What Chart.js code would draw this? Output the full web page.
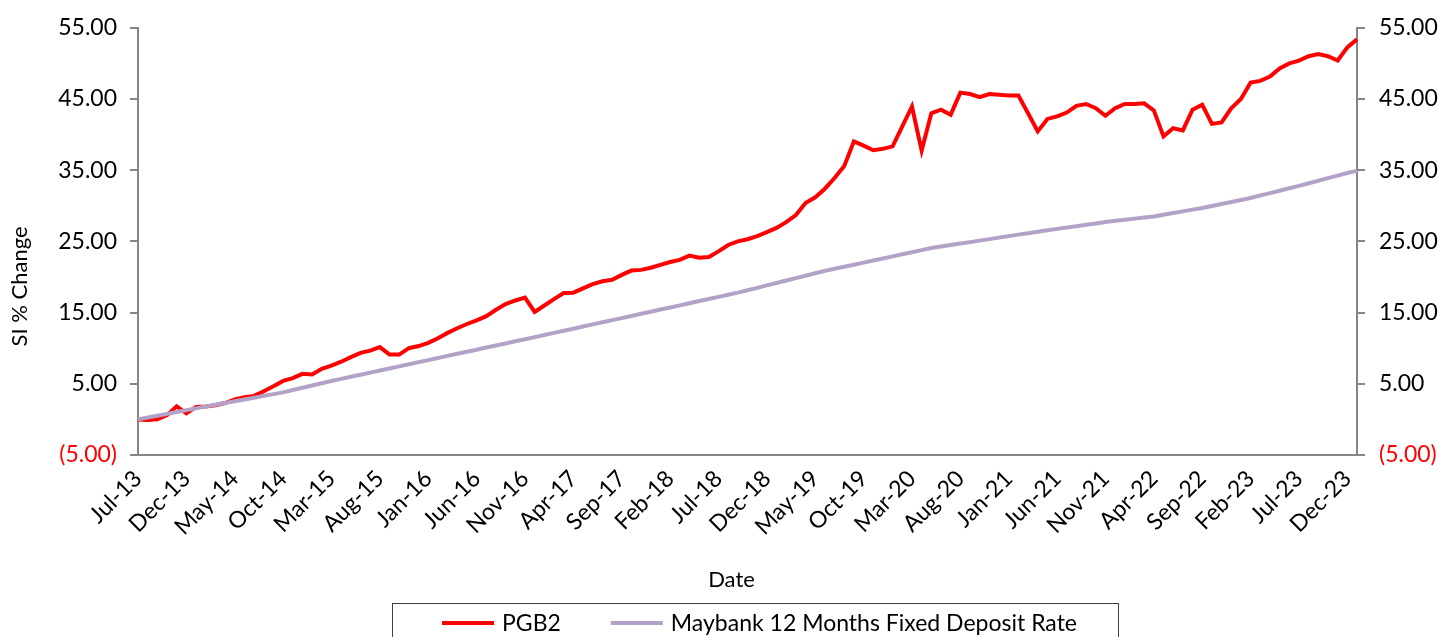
<!DOCTYPE html>
<html>
<head>
<meta charset="utf-8">
<title>PGB2 vs Maybank 12 Months Fixed Deposit Rate</title>
<script src="https://cdn.jsdelivr.net/npm/chart.js@4.4.1/dist/chart.umd.min.js"></script>
<style>
  html, body { margin: 0; padding: 0; background: #fff; }
  #wrap { width: 1440px; height: 637px; }
</style>
</head>
<body>
<div id="wrap"><canvas id="chart" width="1440" height="637"></canvas></div>
<script>
// months on the x axis (one point per month)
const months = [
  'Jul-13', 'Aug-13', 'Sep-13', 'Oct-13', 'Nov-13', 'Dec-13',
  'Jan-14', 'Feb-14', 'Mar-14', 'Apr-14', 'May-14', 'Jun-14', 'Jul-14', 'Aug-14', 'Sep-14', 'Oct-14', 'Nov-14', 'Dec-14',
  'Jan-15', 'Feb-15', 'Mar-15', 'Apr-15', 'May-15', 'Jun-15', 'Jul-15', 'Aug-15', 'Sep-15', 'Oct-15', 'Nov-15', 'Dec-15',
  'Jan-16', 'Feb-16', 'Mar-16', 'Apr-16', 'May-16', 'Jun-16', 'Jul-16', 'Aug-16', 'Sep-16', 'Oct-16', 'Nov-16', 'Dec-16',
  'Jan-17', 'Feb-17', 'Mar-17', 'Apr-17', 'May-17', 'Jun-17', 'Jul-17', 'Aug-17', 'Sep-17', 'Oct-17', 'Nov-17', 'Dec-17',
  'Jan-18', 'Feb-18', 'Mar-18', 'Apr-18', 'May-18', 'Jun-18', 'Jul-18', 'Aug-18', 'Sep-18', 'Oct-18', 'Nov-18', 'Dec-18',
  'Jan-19', 'Feb-19', 'Mar-19', 'Apr-19', 'May-19', 'Jun-19', 'Jul-19', 'Aug-19', 'Sep-19', 'Oct-19', 'Nov-19', 'Dec-19',
  'Jan-20', 'Feb-20', 'Mar-20', 'Apr-20', 'May-20', 'Jun-20', 'Jul-20', 'Aug-20', 'Sep-20', 'Oct-20', 'Nov-20', 'Dec-20',
  'Jan-21', 'Feb-21', 'Mar-21', 'Apr-21', 'May-21', 'Jun-21', 'Jul-21', 'Aug-21', 'Sep-21', 'Oct-21', 'Nov-21', 'Dec-21',
  'Jan-22', 'Feb-22', 'Mar-22', 'Apr-22', 'May-22', 'Jun-22', 'Jul-22', 'Aug-22', 'Sep-22', 'Oct-22', 'Nov-22', 'Dec-22',
  'Jan-23', 'Feb-23', 'Mar-23', 'Apr-23', 'May-23', 'Jun-23', 'Jul-23', 'Aug-23', 'Sep-23', 'Oct-23', 'Nov-23', 'Dec-23',
  'Jan-24'
];

// SI % change of the fund
const pgb2 = [
  0.00, -0.10, 0.00, 0.60, 1.85, 0.85, 1.75, 1.80, 2.00, 2.30, 2.80, 3.10, 3.30, 3.95, 4.65, 5.40, 5.80, 6.40, 6.30, 7.10,
  7.55, 8.10, 8.75, 9.35, 9.65, 10.15, 9.10, 9.10, 10.00, 10.30, 10.75, 11.40, 12.15, 12.80, 13.40, 13.90, 14.50, 15.40, 16.20, 16.70,
  17.10, 15.10, 16.00, 16.90, 17.75, 17.80, 18.40, 19.00, 19.40, 19.60, 20.30, 20.90, 21.00, 21.30, 21.70, 22.10, 22.40, 23.00, 22.70, 22.80,
  23.60, 24.50, 25.00, 25.30, 25.75, 26.30, 26.90, 27.70, 28.70, 30.40, 31.20, 32.40, 33.90, 35.60, 39.05, 38.45, 37.80, 38.00, 38.35, 41.15,
  43.95, 37.75, 43.00, 43.50, 42.80, 45.90, 45.70, 45.25, 45.70, 45.60, 45.50, 45.50, 43.00, 40.45, 42.20, 42.55, 43.10, 44.05, 44.30, 43.70,
  42.65, 43.70, 44.30, 44.30, 44.40, 43.40, 39.75, 40.90, 40.60, 43.50, 44.20, 41.50, 41.70, 43.70, 45.00, 47.30, 47.55, 48.15, 49.30, 50.00,
  50.40, 51.00, 51.30, 51.00, 50.40, 52.25, 53.40
];

// SI % change of the benchmark
const maybankFd = [
  0.00, 0.26, 0.52, 0.78, 1.04, 1.30, 1.55, 1.80, 2.05, 2.30, 2.55, 2.80, 3.05, 3.30, 3.55, 3.80, 4.12, 4.44, 4.76, 5.08,
  5.40, 5.69, 5.99, 6.28, 6.57, 6.87, 7.16, 7.45, 7.74, 8.04, 8.33, 8.62, 8.92, 9.21, 9.50, 9.79, 10.09, 10.38, 10.67, 10.97,
  11.26, 11.55, 11.85, 12.15, 12.44, 12.74, 13.04, 13.34, 13.64, 13.94, 14.23, 14.53, 14.83, 15.13, 15.43, 15.72, 16.02, 16.32, 16.62, 16.92,
  17.21, 17.51, 17.80, 18.14, 18.48, 18.82, 19.16, 19.50, 19.84, 20.18, 20.52, 20.86, 21.15, 21.44, 21.73, 22.02, 22.31, 22.60, 22.90, 23.19,
  23.48, 23.78, 24.07, 24.28, 24.49, 24.70, 24.90, 25.11, 25.32, 25.53, 25.74, 25.95, 26.15, 26.36, 26.57, 26.76, 26.95, 27.14, 27.33, 27.52,
  27.71, 27.90, 28.05, 28.20, 28.35, 28.50, 28.74, 28.98, 29.22, 29.46, 29.70, 29.98, 30.26, 30.54, 30.82, 31.10, 31.44, 31.78, 32.12, 32.46,
  32.80, 33.16, 33.52, 33.88, 34.24, 34.60, 34.90
];

const yTicks = [-5, 5, 15, 25, 35, 45, 55];

const FONT = 'Lato, "Open Sans", sans-serif';
const FONT_SIZE = 23;
const TITLE_SIZE = 22;
const AXIS_GREY = '#868686';

Chart.defaults.font.family = FONT;
Chart.defaults.font.size = FONT_SIZE;
Chart.defaults.color = '#000';

// negatives in brackets, two decimals
const fmt = (v) => v < 0 ? `(${Math.abs(v).toFixed(2)})` : v.toFixed(2);
const tickColor = (c) => (c.tick && c.tick.value < 0) ? '#FF0000' : '#000';

const yAxis = (position, width, pad) => ({
  position,
  min: -5,
  max: 55,
  afterBuildTicks: (s) => { s.ticks = yTicks.map(v => ({ value: v })); },
  afterFit: (s) => { s.width = width; },
  grid: { display: true, drawOnChartArea: false, drawTicks: true, tickLength: 8, color: AXIS_GREY, lineWidth: 2 },
  border: { display: true, color: AXIS_GREY, width: 2 },
  ticks: { padding: pad, color: tickColor, callback: (v) => fmt(v) }
});

// axis titles and the boxed legend, drawn like Excel does
const extraText = {
  id: 'extraText',
  afterDraw(chart) {
    const { ctx, chartArea: a } = chart;
    const sets = chart.data.datasets;
    ctx.save();
    ctx.fillStyle = '#000';
    ctx.textBaseline = 'middle';

    // y title
    ctx.font = `${TITLE_SIZE}px ${FONT}`;
    ctx.save();
    ctx.translate(20, (a.top + a.bottom) / 2 + 45);
    ctx.rotate(-Math.PI / 2);
    ctx.textAlign = 'center';
    ctx.fillText('SI % Change', 0, 0);
    ctx.restore();

    // x title
    ctx.textAlign = 'center';
    ctx.fillText('Date', (a.left + a.right) / 2 - 16, a.bottom + 125);

    // legend
    ctx.font = `${FONT_SIZE}px ${FONT}`;
    const lineW = 52, gapText = 8, gapItem = 50;
    const widths = sets.map(d => lineW + gapText + ctx.measureText(d.label).width);
    const total = widths.reduce((s, w) => s + w, 0) + gapItem * (sets.length - 1);
    let x = (a.left + a.right) / 2 + 12 - total / 2;
    const y = a.bottom + 168;
    ctx.strokeStyle = '#404040';
    ctx.lineWidth = 1;
    ctx.strokeRect(Math.round(x - 50) + 0.5, Math.round(y - 20) + 0.5, Math.round(total + 91), 44);
    ctx.textAlign = 'left';
    sets.forEach((d, i) => {
      ctx.strokeStyle = d.borderColor;
      ctx.lineWidth = d.borderWidth;
      ctx.beginPath();
      ctx.moveTo(x, y);
      ctx.lineTo(x + lineW, y);
      ctx.stroke();
      ctx.fillText(d.label, x + lineW + gapText, y + 1);
      x += widths[i] + gapItem;
    });
    ctx.restore();
  }
};

new Chart(document.getElementById('chart'), {
  type: 'line',
  data: {
    labels: months,
    datasets: [
      { label: 'PGB2', data: pgb2, borderColor: '#FF0000', borderWidth: 4, pointRadius: 0, tension: 0, order: 1, yAxisID: 'y' },
      { label: 'Maybank 12 Months Fixed Deposit Rate', data: maybankFd, borderColor: '#B3A2C7', borderWidth: 4, pointRadius: 0, tension: 0, order: 0, yAxisID: 'y' }
    ]
  },
  options: {
    responsive: false,
    animation: false,
    devicePixelRatio: 1,
    layout: { padding: { top: 26, left: 0, right: 0, bottom: 0 } },
    plugins: { legend: { display: false }, tooltip: { enabled: false } },
    scales: {
      x: {
        afterFit: (s) => { s.height = 182; },
        grid: { display: false, drawTicks: false },
        border: { display: true, color: AXIS_GREY, width: 2 },
        ticks: {
          autoSkip: false,
          maxRotation: 45,
          minRotation: 45,
          padding: 10,
          callback: (v, i) => i % 5 === 0 ? months[i] : ''
        }
      },
      y: yAxis('left', 138, 13),
      y2: yAxis('right', 83, 14)
    }
  },
  plugins: [extraText]
});
</script>
</body>
</html>
